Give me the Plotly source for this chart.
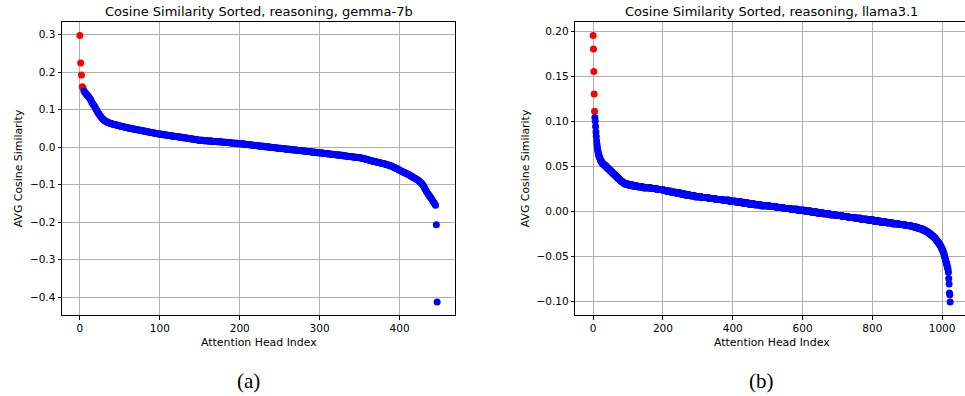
import plotly.graph_objects as go

W, H = 965, 396

# ---------------- data ----------------
gemma_values = [
    0.297, 0.224, 0.192, 0.161, 0.158,
    0.150, 0.147, 0.144, 0.141, 0.139, 0.137, 0.134, 0.131, 0.128, 0.124, 0.119, 0.116,
    0.113, 0.110, 0.106, 0.102, 0.098, 0.094, 0.091, 0.088, 0.085, 0.082, 0.079, 0.076,
    0.074, 0.072, 0.070, 0.069, 0.068, 0.067, 0.066, 0.065, 0.064, 0.063, 0.063, 0.062,
    0.061, 0.061, 0.060, 0.060, 0.059, 0.059, 0.058, 0.057, 0.057, 0.056,
    0.056, 0.055, 0.055, 0.054, 0.054, 0.053, 0.053, 0.052, 0.052, 0.051,
    0.051, 0.050, 0.050, 0.050, 0.049, 0.049, 0.048, 0.048, 0.047, 0.047, 0.047, 0.046, 0.046, 0.045, 0.045,
    0.045, 0.044, 0.044, 0.043, 0.043, 0.042, 0.042, 0.042, 0.041, 0.041, 0.040, 0.040, 0.039, 0.039, 0.039,
    0.038, 0.038, 0.037, 0.037, 0.037, 0.036, 0.036, 0.035, 0.035, 0.035,
    0.034, 0.034, 0.034, 0.033, 0.033, 0.033, 0.032, 0.032, 0.032, 0.031, 0.031, 0.031, 0.030,
    0.030, 0.030, 0.029, 0.029, 0.029, 0.029, 0.028, 0.028, 0.028, 0.027, 0.027, 0.027,
    0.026, 0.026, 0.026, 0.025, 0.025, 0.025, 0.024, 0.024, 0.024, 0.023, 0.023, 0.023, 0.022,
    0.022, 0.022, 0.021, 0.021, 0.021, 0.020, 0.020, 0.020, 0.019, 0.019, 0.018, 0.018,
    0.018, 0.018, 0.018, 0.018, 0.017, 0.017, 0.017, 0.017, 0.017, 0.016, 0.016, 0.016, 0.016,
    0.016, 0.016, 0.015, 0.015, 0.015, 0.015, 0.015, 0.015, 0.014, 0.014, 0.014, 0.014,
    0.014, 0.014, 0.013, 0.013, 0.013, 0.013, 0.013, 0.012, 0.012, 0.012, 0.012, 0.012, 0.011,
    0.011, 0.011, 0.011, 0.011, 0.010, 0.010, 0.010, 0.010, 0.010, 0.009, 0.009, 0.009,
    0.009, 0.009, 0.008, 0.008, 0.008, 0.008, 0.007, 0.007, 0.007, 0.007, 0.006, 0.006, 0.006,
    0.006, 0.005, 0.005, 0.005, 0.005, 0.004, 0.004, 0.004, 0.004, 0.003, 0.003, 0.003,
    0.003, 0.002, 0.002, 0.002, 0.002, 0.001, 0.001, 0.001, 0.001, 0.000, 0.000, 0.000, 0.000,
    -0.001, -0.001, -0.001, -0.001, -0.002, -0.002, -0.002, -0.002, -0.003, -0.003, -0.003, -0.003,
    -0.003, -0.004, -0.004, -0.004, -0.004, -0.005, -0.005, -0.005, -0.005, -0.006, -0.006, -0.006, -0.006,
    -0.007, -0.007, -0.007, -0.007, -0.008, -0.008, -0.008, -0.008, -0.009, -0.009, -0.009, -0.009,
    -0.009, -0.010, -0.010, -0.010, -0.010, -0.011, -0.011, -0.011, -0.011, -0.012, -0.012, -0.012, -0.012,
    -0.013, -0.013, -0.013, -0.013, -0.014, -0.014, -0.014, -0.014, -0.015, -0.015, -0.015, -0.015,
    -0.016, -0.016, -0.016, -0.016, -0.017, -0.017, -0.017, -0.017, -0.018, -0.018, -0.018, -0.018, -0.019,
    -0.019, -0.019, -0.019, -0.020, -0.020, -0.020, -0.020, -0.021, -0.021, -0.021, -0.021, -0.021,
    -0.022, -0.022, -0.022, -0.023, -0.023, -0.023, -0.024, -0.024, -0.024, -0.025, -0.025, -0.025, -0.025,
    -0.026, -0.026, -0.026, -0.026, -0.027, -0.027, -0.027, -0.027, -0.028, -0.028, -0.028, -0.028,
    -0.029, -0.029, -0.030, -0.030, -0.031, -0.031, -0.032, -0.032, -0.033, -0.033, -0.034, -0.035, -0.036,
    -0.036, -0.037, -0.037, -0.038, -0.038, -0.039, -0.039, -0.040, -0.040, -0.041, -0.041, -0.042,
    -0.042, -0.043, -0.043, -0.044, -0.044, -0.045, -0.045, -0.046, -0.047, -0.047, -0.048, -0.049,
    -0.049, -0.050, -0.051,
    -0.052, -0.053, -0.054, -0.055, -0.056, -0.057, -0.058, -0.059, -0.060, -0.062,
    -0.063, -0.064, -0.065, -0.066, -0.067, -0.068, -0.069, -0.070, -0.071, -0.072,
    -0.073, -0.074, -0.075, -0.077, -0.078, -0.079, -0.081,
    -0.082, -0.083, -0.084, -0.086, -0.087, -0.088, -0.090, -0.092,
    -0.094, -0.096, -0.098, -0.101, -0.104,
    -0.108, -0.112, -0.116, -0.120,
    -0.123, -0.126, -0.129, -0.132, -0.135, -0.138,
    -0.141, -0.145, -0.148, -0.152, -0.155,
    -0.207, -0.413,
]

llama_values = [
    0.195, 0.180, 0.155, 0.130, 0.111,
    0.104, 0.100, 0.094, 0.088, 0.083, 0.078, 0.074, 0.071, 0.068, 0.066, 0.064, 0.062, 0.061, 0.060, 0.059,
    0.058, 0.057, 0.056, 0.055, 0.055, 0.054, 0.054, 0.053, 0.053, 0.052, 0.052,
    0.052, 0.051, 0.051, 0.051, 0.050, 0.050, 0.050, 0.049, 0.049, 0.048, 0.048, 0.048, 0.047, 0.047, 0.047,
    0.046, 0.046, 0.045, 0.045, 0.045, 0.044, 0.044, 0.044, 0.043, 0.043, 0.042, 0.042, 0.042, 0.041, 0.041,
    0.041, 0.040, 0.040, 0.039, 0.039, 0.039, 0.038, 0.038, 0.038, 0.037, 0.037, 0.036, 0.036, 0.036, 0.035,
    0.035, 0.035, 0.034, 0.034, 0.034, 0.033, 0.033, 0.033, 0.032, 0.032, 0.032, 0.032, 0.031, 0.031, 0.031,
    # 91-150
    0.030, 0.030, 0.030, 0.030, 0.030, 0.030, 0.030, 0.030, 0.030, 0.030,
    0.029, 0.029, 0.029, 0.029, 0.029, 0.029, 0.029, 0.029, 0.029, 0.029, 0.029, 0.029, 0.029,
    0.028, 0.028, 0.028, 0.028, 0.028, 0.028, 0.028, 0.028, 0.028, 0.028, 0.028, 0.028, 0.028,
    0.027, 0.027, 0.027, 0.027, 0.027, 0.027, 0.027, 0.027, 0.027, 0.027, 0.027, 0.027, 0.027, 0.027, 0.027, 0.027,
    0.026, 0.026, 0.026, 0.026, 0.026, 0.026, 0.026, 0.026,
    # 151-200
    0.026, 0.026, 0.026, 0.026, 0.026, 0.026, 0.026, 0.026, 0.026, 0.026, 0.026, 0.026, 0.026, 0.026, 0.026,
    0.025, 0.025, 0.025, 0.025, 0.025, 0.025, 0.025, 0.025, 0.025, 0.025, 0.025, 0.025, 0.025, 0.025, 0.025, 0.025, 0.025,
    0.024, 0.024, 0.024, 0.024, 0.024, 0.024, 0.024, 0.024, 0.024, 0.024, 0.024, 0.024, 0.024, 0.024, 0.024, 0.024, 0.024, 0.024,
    # 201-300
    0.023, 0.023, 0.023, 0.023, 0.023, 0.023, 0.023, 0.023, 0.023, 0.023,
    0.022, 0.022, 0.022, 0.022, 0.022, 0.022, 0.022, 0.022, 0.022, 0.022, 0.022, 0.022, 0.022,
    0.021, 0.021, 0.021, 0.021, 0.021, 0.021, 0.021, 0.021, 0.021, 0.021, 0.021, 0.021, 0.021,
    0.020, 0.020, 0.020, 0.020, 0.020, 0.020, 0.020, 0.020, 0.020, 0.020, 0.020, 0.020, 0.020, 0.020,
    0.019, 0.019, 0.019, 0.019, 0.019, 0.019, 0.019, 0.019, 0.019, 0.019, 0.019, 0.019, 0.019,
    0.018, 0.018, 0.018, 0.018, 0.018, 0.018, 0.018, 0.018, 0.018, 0.018, 0.018, 0.018, 0.018, 0.018,
    0.017, 0.017, 0.017, 0.017, 0.017, 0.017, 0.017, 0.017, 0.017, 0.017, 0.017, 0.017, 0.017, 0.017,
    0.016, 0.016, 0.016, 0.016, 0.016, 0.016, 0.016, 0.016, 0.016,
    # 301-400
    0.016, 0.016, 0.016, 0.016, 0.016, 0.016, 0.016, 0.016, 0.016, 0.016,
    0.015, 0.015, 0.015, 0.015, 0.015, 0.015, 0.015, 0.015, 0.015, 0.015, 0.015, 0.015, 0.015, 0.015, 0.015, 0.015, 0.015, 0.015, 0.015, 0.015,
    0.014, 0.014, 0.014, 0.014, 0.014, 0.014, 0.014, 0.014, 0.014, 0.014, 0.014, 0.014, 0.014, 0.014, 0.014, 0.014, 0.014, 0.014, 0.014, 0.014,
    0.013, 0.013, 0.013, 0.013, 0.013, 0.013, 0.013, 0.013, 0.013, 0.013, 0.013, 0.013, 0.013, 0.013, 0.013, 0.013, 0.013, 0.013, 0.013, 0.013,
    0.012, 0.012, 0.012, 0.012, 0.012, 0.012, 0.012, 0.012, 0.012, 0.012, 0.012, 0.012, 0.012, 0.012, 0.012, 0.012, 0.012, 0.012, 0.012, 0.012,
    0.011, 0.011, 0.011, 0.011, 0.011, 0.011, 0.011, 0.011, 0.011, 0.011,
    # 401-500
    0.011, 0.011, 0.011, 0.011, 0.011, 0.011, 0.011, 0.011,
    0.010, 0.010, 0.010, 0.010, 0.010, 0.010, 0.010, 0.010, 0.010, 0.010, 0.010, 0.010, 0.010, 0.010, 0.010, 0.010, 0.010, 0.010,
    0.009, 0.009, 0.009, 0.009, 0.009, 0.009, 0.009, 0.009, 0.009, 0.009, 0.009, 0.009, 0.009, 0.009, 0.009, 0.009, 0.009, 0.009,
    0.008, 0.008, 0.008, 0.008, 0.008, 0.008, 0.008, 0.008, 0.008, 0.008, 0.008, 0.008, 0.008, 0.008, 0.008, 0.008, 0.008, 0.008,
    0.007, 0.007, 0.007, 0.007, 0.007, 0.007, 0.007, 0.007, 0.007, 0.007, 0.007, 0.007, 0.007, 0.007, 0.007, 0.007, 0.007, 0.007,
    0.006, 0.006, 0.006, 0.006, 0.006, 0.006, 0.006, 0.006, 0.006, 0.006, 0.006, 0.006, 0.006, 0.006, 0.006, 0.006, 0.006, 0.006, 0.006, 0.006,
    # 501-600
    0.006, 0.006, 0.006, 0.006, 0.006,
    0.005, 0.005, 0.005, 0.005, 0.005, 0.005, 0.005, 0.005, 0.005, 0.005, 0.005, 0.005, 0.005, 0.005, 0.005, 0.005, 0.005, 0.005, 0.005, 0.005,
    0.004, 0.004, 0.004, 0.004, 0.004, 0.004, 0.004, 0.004, 0.004, 0.004, 0.004, 0.004, 0.004, 0.004, 0.004, 0.004, 0.004, 0.004, 0.004, 0.004,
    0.003, 0.003, 0.003, 0.003, 0.003, 0.003, 0.003, 0.003, 0.003, 0.003, 0.003, 0.003, 0.003, 0.003, 0.003, 0.003, 0.003, 0.003, 0.003, 0.003,
    0.002, 0.002, 0.002, 0.002, 0.002, 0.002, 0.002, 0.002, 0.002, 0.002, 0.002, 0.002, 0.002, 0.002, 0.002, 0.002, 0.002, 0.002, 0.002, 0.002,
    0.001, 0.001, 0.001, 0.001, 0.001, 0.001, 0.001, 0.001, 0.001, 0.001, 0.001, 0.001, 0.001, 0.001, 0.001,
    # 601-700
    0.001, 0.001, 0.001, 0.001, 0.001,
    0.000, 0.000, 0.000, 0.000, 0.000, 0.000, 0.000, 0.000, 0.000, 0.000, 0.000, 0.000, 0.000, 0.000, 0.000, 0.000, 0.000, 0.000,
    -0.001, -0.001, -0.001, -0.001, -0.001, -0.001, -0.001, -0.001, -0.001, -0.001, -0.001, -0.001, -0.001, -0.001, -0.001, -0.001, -0.001, -0.001,
    -0.002, -0.002, -0.002, -0.002, -0.002, -0.002, -0.002, -0.002, -0.002, -0.002, -0.002, -0.002, -0.002, -0.002, -0.002, -0.002, -0.002, -0.002,
    -0.003, -0.003, -0.003, -0.003, -0.003, -0.003, -0.003, -0.003, -0.003, -0.003, -0.003, -0.003, -0.003, -0.003, -0.003, -0.003, -0.003, -0.003,
    -0.004, -0.004, -0.004, -0.004, -0.004, -0.004, -0.004, -0.004, -0.004, -0.004, -0.004, -0.004, -0.004, -0.004, -0.004, -0.004, -0.004, -0.004,
    -0.005, -0.005, -0.005, -0.005, -0.005,
    # 701-800
    -0.005, -0.005, -0.005, -0.005, -0.005, -0.005, -0.005, -0.005, -0.005, -0.005, -0.005, -0.005, -0.005,
    -0.006, -0.006, -0.006, -0.006, -0.006, -0.006, -0.006, -0.006, -0.006, -0.006, -0.006, -0.006, -0.006, -0.006, -0.006, -0.006, -0.006, -0.006,
    -0.007, -0.007, -0.007, -0.007, -0.007, -0.007, -0.007, -0.007, -0.007, -0.007, -0.007, -0.007, -0.007, -0.007, -0.007, -0.007, -0.007, -0.007,
    -0.008, -0.008, -0.008, -0.008, -0.008, -0.008, -0.008, -0.008, -0.008, -0.008, -0.008, -0.008, -0.008, -0.008, -0.008, -0.008, -0.008, -0.008,
    -0.009, -0.009, -0.009, -0.009, -0.009, -0.009, -0.009, -0.009, -0.009, -0.009, -0.009, -0.009, -0.009, -0.009, -0.009, -0.009, -0.009, -0.009,
    -0.010, -0.010, -0.010, -0.010, -0.010, -0.010, -0.010, -0.010, -0.010, -0.010, -0.010, -0.010, -0.010, -0.010, -0.010,
    # 801-900
    -0.010, -0.010, -0.010,
    -0.011, -0.011, -0.011, -0.011, -0.011, -0.011, -0.011, -0.011, -0.011, -0.011, -0.011, -0.011, -0.011, -0.011, -0.011, -0.011, -0.011, -0.011,
    -0.012, -0.012, -0.012, -0.012, -0.012, -0.012, -0.012, -0.012, -0.012, -0.012, -0.012, -0.012, -0.012, -0.012, -0.012, -0.012, -0.012, -0.012,
    -0.013, -0.013, -0.013, -0.013, -0.013, -0.013, -0.013, -0.013, -0.013, -0.013, -0.013, -0.013, -0.013, -0.013, -0.013, -0.013, -0.013, -0.013,
    -0.014, -0.014, -0.014, -0.014, -0.014, -0.014, -0.014, -0.014, -0.014, -0.014, -0.014, -0.014, -0.014, -0.014, -0.014, -0.014, -0.014, -0.014,
    -0.015, -0.015, -0.015, -0.015, -0.015, -0.015, -0.015, -0.015, -0.015, -0.015, -0.015, -0.015, -0.015, -0.015, -0.015, -0.015, -0.015, -0.015,
    -0.016, -0.016, -0.016, -0.016, -0.016, -0.016, -0.016,
    # 901-965
    -0.016, -0.016, -0.016, -0.016, -0.016, -0.016, -0.016, -0.016, -0.016, -0.016,
    -0.017, -0.017, -0.017, -0.017, -0.017, -0.017, -0.017, -0.017, -0.017, -0.017,
    -0.018, -0.018, -0.018, -0.018, -0.018, -0.018, -0.018, -0.018, -0.018,
    -0.019, -0.019, -0.019, -0.019, -0.019, -0.019, -0.019, -0.019,
    -0.020, -0.020, -0.020, -0.020, -0.020, -0.020, -0.020,
    -0.021, -0.021, -0.021, -0.021, -0.021, -0.021,
    -0.022, -0.022, -0.022, -0.022, -0.022,
    -0.023, -0.023, -0.023, -0.023,
    -0.024, -0.024, -0.024,
    -0.025, -0.025, -0.025,
    # 966-1017
    -0.025, -0.026, -0.026, -0.026, -0.027, -0.027, -0.027, -0.028, -0.028, -0.028,
    -0.029, -0.029, -0.029, -0.030, -0.030, -0.031, -0.031, -0.032, -0.032, -0.033,
    -0.033, -0.034, -0.034, -0.035, -0.035, -0.036, -0.036,
    -0.037, -0.038, -0.038, -0.039, -0.040, -0.041, -0.041, -0.042, -0.043, -0.044,
    -0.045, -0.046, -0.047, -0.049, -0.050, -0.052, -0.053, -0.055, -0.056, -0.057,
    -0.059, -0.060, -0.062, -0.063, -0.065,
    # 1018-1023
    -0.068, -0.075, -0.081, -0.091, -0.093, -0.101,
]

N_TOP = 5  # highest-similarity heads drawn in red

gemma_xticks = [0, 100, 200, 300, 400]
gemma_yticks = [0.3, 0.2, 0.1, 0.0, -0.1, -0.2, -0.3, -0.4]
gemma_ytext = ["0.3", "0.2", "0.1", "0.0", "\u22120.1", "\u22120.2", "\u22120.3", "\u22120.4"]
llama_xticks = [0, 200, 400, 600, 800, 1000]
llama_yticks = [0.20, 0.15, 0.10, 0.05, 0.00, -0.05, -0.10]
llama_ytext = ["0.20", "0.15", "0.10", "0.05", "0.00", "\u22120.05", "\u22120.10"]

titles = ["Cosine Similarity Sorted, reasoning, gemma-7b",
          "Cosine Similarity Sorted, reasoning, llama3.1"]
panel_labels = ["(a)", "(b)"]
xlabel = "Attention Head Index"
ylabel = "AVG Cosine Similarity"

# ---------------- figure ----------------
FONT = "DejaVu Sans"
TICK_SIZE = 10.5
LABEL_SIZE = 10.9
TITLE_SIZE = 13
fig = go.Figure()


def add_panel(values, xa, ya):
    idx = list(range(len(values)))
    fig.add_trace(go.Scatter(x=idx[:N_TOP], y=values[:N_TOP], mode="markers",
                             marker=dict(color="#ff0000", size=7, line=dict(width=0)),
                             xaxis=xa, yaxis=ya, showlegend=False, hoverinfo="x+y"))
    fig.add_trace(go.Scatter(x=idx[N_TOP:], y=values[N_TOP:], mode="markers",
                             marker=dict(color="#0000ff", size=7, line=dict(width=0)),
                             xaxis=xa, yaxis=ya, showlegend=False, hoverinfo="x+y"))


add_panel(gemma_values, "x", "y")
add_panel(llama_values, "x2", "y2")

ytop, ybot = 22.3, 315.3
ydom = [1 - ybot / H, 1 - ytop / H]

common = dict(
    showgrid=True, gridcolor="#b0b0b0", gridwidth=0.8,
    showline=True, linecolor="black", linewidth=1,
    ticks="outside", ticklen=3.5, tickwidth=0.8, tickcolor="black",
    tickfont=dict(family=FONT, size=TICK_SIZE, color="black"),
    zeroline=False, layer="above traces", fixedrange=True,
)

n1 = len(gemma_values)
n2 = len(llama_values)
m1 = 0.05 * (n1 - 1)
m2 = 0.05 * (n2 - 1)
g_min, g_max = min(gemma_values), max(gemma_values)
l_min, l_max = min(llama_values), max(llama_values)
gm = 0.05 * (g_max - g_min)
lm = 0.05 * (l_max - l_min)

x2_left_px = 575.3
x2_right_full = 968.0  # where the (cropped) right frame would be

fig.update_layout(
    width=W, height=H,
    margin=dict(l=0, r=0, t=0, b=0),
    paper_bgcolor="white", plot_bgcolor="white",
    xaxis=dict(domain=[62 / W, 455 / W], range=[-m1, n1 - 1 + m1],
               tickvals=gemma_xticks, ticktext=[str(v) for v in gemma_xticks],
               anchor="y", mirror=True, **common),
    yaxis=dict(domain=ydom, range=[g_min - gm, g_max + gm],
               tickvals=gemma_yticks, ticktext=gemma_ytext,
               anchor="x", mirror=True, **common),
    xaxis2=dict(domain=[x2_left_px / W, 1.0],
                range=[-m2, -m2 + ((n2 - 1) + 2 * m2) * (W - x2_left_px) / (x2_right_full - x2_left_px)],
                tickvals=llama_xticks, ticktext=[str(v) for v in llama_xticks],
                anchor="y2", mirror=True, **common),
    yaxis2=dict(domain=ydom, range=[l_min - lm, l_max + lm],
                tickvals=llama_yticks, ticktext=llama_ytext,
                anchor="x2", mirror=False, **common),
)


def ann(text, xpx, ypx, size, family=FONT, angle=0):
    fig.add_annotation(text=text, x=xpx / W, y=1 - ypx / H, xref="paper", yref="paper",
                       xanchor="center", yanchor="middle", showarrow=False, textangle=angle,
                       font=dict(family=family, size=size, color="black"))


centers = [(62 + 455) / 2, (x2_left_px + x2_right_full) / 2]
for i in range(2):
    ann(titles[i], centers[i], 12, TITLE_SIZE)
    ann(xlabel, centers[i], 342.5, LABEL_SIZE)
ann(ylabel, 18.5, (ytop + ybot) / 2, LABEL_SIZE, angle=-90)
ann(ylabel, 525.5, (ytop + ybot) / 2, LABEL_SIZE, angle=-90)
ann(panel_labels[0], 248, 380.5, 21, family="Liberation Serif")
ann(panel_labels[1], 761.5, 380.5, 21, family="Liberation Serif")

fig.write_html("out.html", config=dict(displayModeBar=False))
